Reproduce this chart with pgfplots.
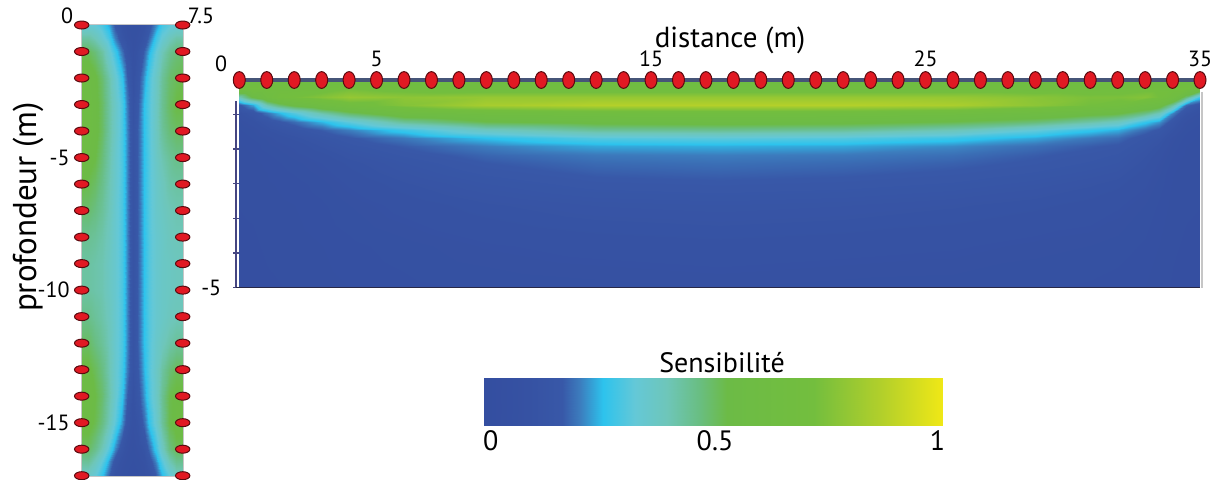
\documentclass[border=0pt]{standalone}
\usepackage{pgfplots}
\pgfplotsset{compat=1.18}
\usepackage{fontspec}
\setmainfont{PT Sans}
\definecolor{elred}{RGB}{225,25,35}
\definecolor{eldark}{RGB}{90,10,15}
\definecolor{topline}{RGB}{70,85,120}
\definecolor{navyax}{RGB}{70,70,130}
\pgfplotsset{
  /pgf/number format/assume math mode=true,
  colormap={sens}{[1pt] rgb255(0pt)=(52,78,160); rgb255(10pt)=(54,82,163); rgb255(17pt)=(56,88,168); rgb255(21pt)=(60,125,190); rgb255(26pt)=(45,195,237); rgb255(33pt)=(100,200,215); rgb255(40pt)=(110,198,185); rgb255(47pt)=(105,190,130); rgb255(53pt)=(108,187,70); rgb255(72pt)=(115,190,62); rgb255(87pt)=(180,208,42); rgb255(100pt)=(240,232,22)}
}
\begin{document}
\begin{tikzpicture}
\useasboundingbox (0pt,0pt) rectangle (611pt,239.5pt);
% ---------------- left panel ----------------
\begin{axis}[at={(40.85pt,1.65pt)}, anchor=south west, scale only axis,
  width=50.5pt, height=225.35pt,
  xmin=0, xmax=7.5, ymin=-17, ymax=0, clip=false,
  colormap name=sens, point meta min=0, point meta max=1,
  axis line style={draw=gray!45, line width=0.8pt},
  xtick=\empty, ytick={-15,-10,-5}, yticklabels={-15,-10,-5},
  major tick length=0pt,
  yticklabel style={font=\fontsize{11}{12}\selectfont, xshift=-2.5pt}]
\addplot[surf, shader=interp, mesh/cols=17, point meta=explicit] coordinates {
(0,0)[0.34] (0.5,0)[0.34] (1,0)[0.33] (1.5,0)[0.3] (2,0)[0.24] (2.5,0)[0.16] (3,0)[0.1] (3.4,0)[0.07] (3.8,0)[0.06] (4.2,0)[0.07] (4.6,0)[0.1] (5,0)[0.15] (5.5,0)[0.22] (6,0)[0.29] (6.5,0)[0.32] (7,0)[0.34] (7.5,0)[0.34]
(0,-0.5)[0.43] (0.5,-0.5)[0.43] (1,-0.5)[0.4] (1.5,-0.5)[0.35] (2,-0.5)[0.29] (2.5,-0.5)[0.21] (3,-0.5)[0.13] (3.4,-0.5)[0.09] (3.8,-0.5)[0.07] (4.2,-0.5)[0.09] (4.6,-0.5)[0.13] (5,-0.5)[0.19] (5.5,-0.5)[0.28] (6,-0.5)[0.34] (6.5,-0.5)[0.39] (7,-0.5)[0.42] (7.5,-0.5)[0.42]
(0,-1)[0.51] (0.5,-1)[0.51] (1,-1)[0.48] (1.5,-1)[0.43] (2,-1)[0.35] (2.5,-1)[0.28] (3,-1)[0.2] (3.4,-1)[0.13] (3.8,-1)[0.08] (4.2,-1)[0.12] (4.6,-1)[0.18] (5,-1)[0.25] (5.5,-1)[0.33] (6,-1)[0.4] (6.5,-1)[0.45] (7,-1)[0.48] (7.5,-1)[0.49]
(0,-2)[0.57] (0.5,-2)[0.57] (1,-2)[0.54] (1.5,-2)[0.49] (2,-2)[0.42] (2.5,-2)[0.35] (3,-2)[0.27] (3.4,-2)[0.18] (3.8,-2)[0.1] (4.2,-2)[0.15] (4.6,-2)[0.23] (5,-2)[0.3] (5.5,-2)[0.37] (6,-2)[0.44] (6.5,-2)[0.49] (7,-2)[0.51] (7.5,-2)[0.52]
(0,-3)[0.58] (0.5,-3)[0.58] (1,-3)[0.55] (1.5,-3)[0.5] (2,-3)[0.43] (2.5,-3)[0.37] (3,-3)[0.3] (3.4,-3)[0.21] (3.8,-3)[0.11] (4.2,-3)[0.17] (4.6,-3)[0.26] (5,-3)[0.31] (5.5,-3)[0.38] (6,-3)[0.45] (6.5,-3)[0.5] (7,-3)[0.53] (7.5,-3)[0.53]
(0,-4)[0.58] (0.5,-4)[0.58] (1,-4)[0.55] (1.5,-4)[0.5] (2,-4)[0.43] (2.5,-4)[0.37] (3,-4)[0.3] (3.4,-4)[0.22] (3.8,-4)[0.12] (4.2,-4)[0.18] (4.6,-4)[0.26] (5,-4)[0.31] (5.5,-4)[0.38] (6,-4)[0.44] (6.5,-4)[0.48] (7,-4)[0.5] (7.5,-4)[0.5]
(0,-5)[0.57] (0.5,-5)[0.56] (1,-5)[0.53] (1.5,-5)[0.48] (2,-5)[0.42] (2.5,-5)[0.36] (3,-5)[0.3] (3.4,-5)[0.22] (3.8,-5)[0.12] (4.2,-5)[0.18] (4.6,-5)[0.26] (5,-5)[0.31] (5.5,-5)[0.37] (6,-5)[0.41] (6.5,-5)[0.44] (7,-5)[0.46] (7.5,-5)[0.46]
(0,-6)[0.53] (0.5,-6)[0.52] (1,-6)[0.5] (1.5,-6)[0.46] (2,-6)[0.41] (2.5,-6)[0.36] (3,-6)[0.3] (3.4,-6)[0.22] (3.8,-6)[0.12] (4.2,-6)[0.18] (4.6,-6)[0.26] (5,-6)[0.31] (5.5,-6)[0.36] (6,-6)[0.39] (6.5,-6)[0.42] (7,-6)[0.43] (7.5,-6)[0.43]
(0,-7)[0.49] (0.5,-7)[0.49] (1,-7)[0.47] (1.5,-7)[0.44] (2,-7)[0.4] (2.5,-7)[0.35] (3,-7)[0.3] (3.4,-7)[0.22] (3.8,-7)[0.12] (4.2,-7)[0.18] (4.6,-7)[0.26] (5,-7)[0.31] (5.5,-7)[0.36] (6,-7)[0.38] (6.5,-7)[0.4] (7,-7)[0.41] (7.5,-7)[0.41]
(0,-8)[0.45] (0.5,-8)[0.45] (1,-8)[0.44] (1.5,-8)[0.42] (2,-8)[0.39] (2.5,-8)[0.35] (3,-8)[0.3] (3.4,-8)[0.22] (3.8,-8)[0.12] (4.2,-8)[0.18] (4.6,-8)[0.26] (5,-8)[0.31] (5.5,-8)[0.35] (6,-8)[0.37] (6.5,-8)[0.39] (7,-8)[0.4] (7.5,-8)[0.4]
(0,-9)[0.43] (0.5,-9)[0.43] (1,-9)[0.42] (1.5,-9)[0.41] (2,-9)[0.38] (2.5,-9)[0.35] (3,-9)[0.3] (3.4,-9)[0.22] (3.8,-9)[0.12] (4.2,-9)[0.18] (4.6,-9)[0.26] (5,-9)[0.31] (5.5,-9)[0.35] (6,-9)[0.37] (6.5,-9)[0.38] (7,-9)[0.39] (7.5,-9)[0.39]
(0,-10)[0.43] (0.5,-10)[0.43] (1,-10)[0.42] (1.5,-10)[0.41] (2,-10)[0.38] (2.5,-10)[0.35] (3,-10)[0.3] (3.4,-10)[0.22] (3.8,-10)[0.12] (4.2,-10)[0.18] (4.6,-10)[0.26] (5,-10)[0.31] (5.5,-10)[0.35] (6,-10)[0.37] (6.5,-10)[0.38] (7,-10)[0.39] (7.5,-10)[0.39]
(0,-11)[0.46] (0.5,-11)[0.46] (1,-11)[0.44] (1.5,-11)[0.42] (2,-11)[0.39] (2.5,-11)[0.35] (3,-11)[0.3] (3.4,-11)[0.22] (3.8,-11)[0.12] (4.2,-11)[0.18] (4.6,-11)[0.26] (5,-11)[0.31] (5.5,-11)[0.35] (6,-11)[0.37] (6.5,-11)[0.39] (7,-11)[0.4] (7.5,-11)[0.4]
(0,-12)[0.5] (0.5,-12)[0.5] (1,-12)[0.47] (1.5,-12)[0.44] (2,-12)[0.4] (2.5,-12)[0.35] (3,-12)[0.3] (3.4,-12)[0.22] (3.8,-12)[0.12] (4.2,-12)[0.18] (4.6,-12)[0.26] (5,-12)[0.31] (5.5,-12)[0.36] (6,-12)[0.39] (6.5,-12)[0.42] (7,-12)[0.44] (7.5,-12)[0.44]
(0,-13)[0.54] (0.5,-13)[0.54] (1,-13)[0.51] (1.5,-13)[0.47] (2,-13)[0.41] (2.5,-13)[0.35] (3,-13)[0.29] (3.4,-13)[0.21] (3.8,-13)[0.12] (4.2,-13)[0.17] (4.6,-13)[0.25] (5,-13)[0.31] (5.5,-13)[0.37] (6,-13)[0.43] (6.5,-13)[0.48] (7,-13)[0.51] (7.5,-13)[0.51]
(0,-14)[0.57] (0.5,-14)[0.57] (1,-14)[0.53] (1.5,-14)[0.49] (2,-14)[0.42] (2.5,-14)[0.35] (3,-14)[0.27] (3.4,-14)[0.18] (3.8,-14)[0.1] (4.2,-14)[0.15] (4.6,-14)[0.23] (5,-14)[0.3] (5.5,-14)[0.37] (6,-14)[0.45] (6.5,-14)[0.52] (7,-14)[0.54] (7.5,-14)[0.54]
(0,-15)[0.55] (0.5,-15)[0.55] (1,-15)[0.52] (1.5,-15)[0.47] (2,-15)[0.4] (2.5,-15)[0.32] (3,-15)[0.23] (3.4,-15)[0.14] (3.8,-15)[0.09] (4.2,-15)[0.12] (4.6,-15)[0.19] (5,-15)[0.27] (5.5,-15)[0.35] (6,-15)[0.44] (6.5,-15)[0.52] (7,-15)[0.55] (7.5,-15)[0.55]
(0,-16)[0.5] (0.5,-16)[0.5] (1,-16)[0.46] (1.5,-16)[0.4] (2,-16)[0.31] (2.5,-16)[0.22] (3,-16)[0.13] (3.4,-16)[0.09] (3.8,-16)[0.07] (4.2,-16)[0.09] (4.6,-16)[0.12] (5,-16)[0.19] (5.5,-16)[0.28] (6,-16)[0.38] (6.5,-16)[0.47] (7,-16)[0.51] (7.5,-16)[0.51]
(0,-16.5)[0.44] (0.5,-16.5)[0.44] (1,-16.5)[0.39] (1.5,-16.5)[0.32] (2,-16.5)[0.23] (2.5,-16.5)[0.14] (3,-16.5)[0.09] (3.4,-16.5)[0.07] (3.8,-16.5)[0.06] (4.2,-16.5)[0.07] (4.6,-16.5)[0.09] (5,-16.5)[0.14] (5.5,-16.5)[0.22] (6,-16.5)[0.31] (6.5,-16.5)[0.4] (7,-16.5)[0.45] (7.5,-16.5)[0.45]
(0,-17)[0.37] (0.5,-17)[0.37] (1,-17)[0.33] (1.5,-17)[0.26] (2,-17)[0.18] (2.5,-17)[0.1] (3,-17)[0.07] (3.4,-17)[0.06] (3.8,-17)[0.05] (4.2,-17)[0.06] (4.6,-17)[0.07] (5,-17)[0.1] (5.5,-17)[0.17] (6,-17)[0.25] (6.5,-17)[0.32] (7,-17)[0.38] (7.5,-17)[0.38]
};
\addplot[only marks, mark=*, mark size=2pt, mark options={xscale=1.8, fill=elred, draw=eldark, line width=0.5pt}] coordinates {
(0,0)(0,-1)(0,-2)(0,-3)(0,-4)(0,-5)(0,-6)(0,-7)(0,-8)(0,-9)(0,-10)(0,-11)(0,-12)(0,-13)(0,-14)(0,-15)(0,-16)(0,-17)
(7.5,0)(7.5,-1)(7.5,-2)(7.5,-3)(7.5,-4)(7.5,-5)(7.5,-6)(7.5,-7)(7.5,-8)(7.5,-9)(7.5,-10)(7.5,-11)(7.5,-12)(7.5,-13)(7.5,-14)(7.5,-15)(7.5,-16)(7.5,-17)};
\end{axis}
\node[font=\fontsize{11}{12}\selectfont] at (33.5pt,231.5pt) {0};
\node[font=\fontsize{11}{12}\selectfont] at (100.5pt,231.5pt) {7.5};
\node[rotate=90, font=\fontsize{16.5}{18}\selectfont] at (14pt,136pt) {profondeur (m)};
% ---------------- right panel ----------------
\begin{axis}[at={(119.65pt,95.75pt)}, anchor=south west, scale only axis,
  width=480.35pt, height=103.75pt,
  xmin=0, xmax=35, ymin=-5, ymax=0, clip=false,
  colormap name=sens, point meta min=0, point meta max=1,
  axis line style={draw=none},
  xtick={5,15,25,35}, xticklabel pos=upper, xtick style={draw=none},
  xticklabel style={font=\fontsize{11}{12}\selectfont, yshift=0pt},
  ytick={-4.1667,-3.3333,-2.5,-1.6667,-0.8333}, yticklabels={},
  extra y ticks={-5}, extra y tick labels={-5},
  ytick pos=left, tick align=outside, major tick length=3pt,
  ytick style={draw=navyax, line width=0.7pt},
  yticklabel style={font=\fontsize{11}{12}\selectfont, xshift=-2.5pt}]
\addplot[surf, shader=interp, mesh/cols=21, point meta=explicit] coordinates {
(0,0)[0.6] (0.5,0)[0.6] (1,0)[0.6] (1.5,0)[0.6] (2,0)[0.6] (3,0)[0.6] (4,0)[0.6] (6,0)[0.6] (9,0)[0.6] (13,0)[0.6] (17.5,0)[0.6] (22,0)[0.6] (26,0)[0.6] (29,0)[0.6] (31,0)[0.6] (32,0)[0.6] (33,0)[0.6] (33.5,0)[0.6] (34,0)[0.6] (34.5,0)[0.6] (35,0)[0.55]
(0,-0.2)[0.68] (0.5,-0.2)[0.7] (1,-0.2)[0.68] (1.5,-0.2)[0.67] (2,-0.2)[0.67] (3,-0.2)[0.68] (4,-0.2)[0.72] (6,-0.2)[0.68] (9,-0.2)[0.66] (13,-0.2)[0.66] (17.5,-0.2)[0.66] (22,-0.2)[0.66] (26,-0.2)[0.66] (29,-0.2)[0.66] (31,-0.2)[0.67] (32,-0.2)[0.68] (33,-0.2)[0.7] (33.5,-0.2)[0.7] (34,-0.2)[0.7] (34.5,-0.2)[0.7] (35,-0.2)[0.65]
(0,-0.4)[0.4] (0.5,-0.4)[0.54] (1,-0.4)[0.63] (1.5,-0.4)[0.7] (2,-0.4)[0.72] (3,-0.4)[0.76] (4,-0.4)[0.8] (6,-0.4)[0.78] (9,-0.4)[0.8] (13,-0.4)[0.8] (17.5,-0.4)[0.8] (22,-0.4)[0.8] (26,-0.4)[0.8] (29,-0.4)[0.77] (31,-0.4)[0.74] (32,-0.4)[0.74] (33,-0.4)[0.76] (33.5,-0.4)[0.72] (34,-0.4)[0.66] (34.5,-0.4)[0.48] (35,-0.4)[0.28]
(0,-0.6)[0.16] (0.5,-0.6)[0.24] (1,-0.6)[0.41] (1.5,-0.6)[0.49] (2,-0.6)[0.55] (3,-0.6)[0.62] (4,-0.6)[0.68] (6,-0.6)[0.76] (9,-0.6)[0.84] (13,-0.6)[0.87] (17.5,-0.6)[0.87] (22,-0.6)[0.87] (26,-0.6)[0.85] (29,-0.6)[0.78] (31,-0.6)[0.72] (32,-0.6)[0.69] (33,-0.6)[0.61] (33.5,-0.6)[0.58] (34,-0.6)[0.43] (34.5,-0.6)[0.19] (35,-0.6)[0.13]
(0,-0.8)[0.1] (0.5,-0.8)[0.135] (1,-0.8)[0.2] (1.5,-0.8)[0.255] (2,-0.8)[0.31] (3,-0.8)[0.42] (4,-0.8)[0.5] (6,-0.8)[0.6] (9,-0.8)[0.64] (13,-0.8)[0.66] (17.5,-0.8)[0.67] (22,-0.8)[0.66] (26,-0.8)[0.64] (29,-0.8)[0.6] (31,-0.8)[0.56] (32,-0.8)[0.54] (33,-0.8)[0.47] (33.5,-0.8)[0.4] (34,-0.8)[0.213] (34.5,-0.8)[0.12] (35,-0.8)[0.08]
(0,-1)[0.073] (0.5,-1)[0.098] (1,-1)[0.133] (1.5,-1)[0.162] (2,-1)[0.19] (3,-1)[0.25] (4,-1)[0.32] (6,-1)[0.44] (9,-1)[0.52] (13,-1)[0.55] (17.5,-1)[0.56] (22,-1)[0.55] (26,-1)[0.52] (29,-1)[0.48] (31,-1)[0.42] (32,-1)[0.38] (33,-1)[0.27] (33.5,-1)[0.228] (34,-1)[0.137] (34.5,-1)[0.08] (35,-1)[0.065]
(0,-1.2)[0.06] (0.5,-1.2)[0.075] (1,-1.2)[0.104] (1.5,-1.2)[0.122] (2,-1.2)[0.14] (3,-1.2)[0.175] (4,-1.2)[0.21] (6,-1.2)[0.28] (9,-1.2)[0.38] (13,-1.2)[0.44] (17.5,-1.2)[0.45] (22,-1.2)[0.44] (26,-1.2)[0.4] (29,-1.2)[0.33] (31,-1.2)[0.27] (32,-1.2)[0.245] (33,-1.2)[0.19] (33.5,-1.2)[0.16] (34,-1.2)[0.109] (34.5,-1.2)[0.068] (35,-1.2)[0.05]
(0,-1.4)[0.05] (0.5,-1.4)[0.064] (1,-1.4)[0.078] (1.5,-1.4)[0.096] (2,-1.4)[0.11] (3,-1.4)[0.14] (4,-1.4)[0.165] (6,-1.4)[0.205] (9,-1.4)[0.26] (13,-1.4)[0.31] (17.5,-1.4)[0.32] (22,-1.4)[0.31] (26,-1.4)[0.28] (29,-1.4)[0.24] (31,-1.4)[0.205] (32,-1.4)[0.19] (33,-1.4)[0.15] (33.5,-1.4)[0.13] (34,-1.4)[0.08] (34.5,-1.4)[0.056] (35,-1.4)[0.048]
(0,-1.6)[0.048] (0.5,-1.6)[0.053] (1,-1.6)[0.07] (1.5,-1.6)[0.08] (2,-1.6)[0.09] (3,-1.6)[0.12] (4,-1.6)[0.145] (6,-1.6)[0.175] (9,-1.6)[0.21] (13,-1.6)[0.24] (17.5,-1.6)[0.245] (22,-1.6)[0.24] (26,-1.6)[0.22] (29,-1.6)[0.195] (31,-1.6)[0.175] (32,-1.6)[0.165] (33,-1.6)[0.135] (33.5,-1.6)[0.11] (34,-1.6)[0.071] (34.5,-1.6)[0.05] (35,-1.6)[0.046]
(0,-1.8)[0.046] (0.5,-1.8)[0.05] (1,-1.8)[0.06] (1.5,-1.8)[0.07] (2,-1.8)[0.08] (3,-1.8)[0.1] (4,-1.8)[0.125] (6,-1.8)[0.155] (9,-1.8)[0.185] (13,-1.8)[0.205] (17.5,-1.8)[0.21] (22,-1.8)[0.205] (26,-1.8)[0.195] (29,-1.8)[0.175] (31,-1.8)[0.16] (32,-1.8)[0.15] (33,-1.8)[0.12] (33.5,-1.8)[0.095] (34,-1.8)[0.063] (34.5,-1.8)[0.048] (35,-1.8)[0.045]
(0,-2)[0.045] (0.5,-2)[0.048] (1,-2)[0.052] (1.5,-2)[0.062] (2,-2)[0.07] (3,-2)[0.088] (4,-2)[0.11] (6,-2)[0.14] (9,-2)[0.17] (13,-2)[0.19] (17.5,-2)[0.195] (22,-2)[0.19] (26,-2)[0.18] (29,-2)[0.165] (31,-2)[0.15] (32,-2)[0.14] (33,-2)[0.11] (33.5,-2)[0.085] (34,-2)[0.054] (34.5,-2)[0.046] (35,-2)[0.044]
(0,-2.5)[0.04] (0.5,-2.5)[0.045] (1,-2.5)[0.048] (1.5,-2.5)[0.052] (2,-2.5)[0.056] (3,-2.5)[0.07] (4,-2.5)[0.09] (6,-2.5)[0.115] (9,-2.5)[0.14] (13,-2.5)[0.16] (17.5,-2.5)[0.165] (22,-2.5)[0.16] (26,-2.5)[0.15] (29,-2.5)[0.135] (31,-2.5)[0.12] (32,-2.5)[0.11] (33,-2.5)[0.09] (33.5,-2.5)[0.07] (34,-2.5)[0.048] (34.5,-2.5)[0.042] (35,-2.5)[0.04]
(0,-3)[0.038] (0.5,-3)[0.04] (1,-3)[0.045] (1.5,-3)[0.048] (2,-3)[0.05] (3,-3)[0.06] (4,-3)[0.075] (6,-3)[0.095] (9,-3)[0.115] (13,-3)[0.13] (17.5,-3)[0.135] (22,-3)[0.13] (26,-3)[0.12] (29,-3)[0.11] (31,-3)[0.1] (32,-3)[0.09] (33,-3)[0.075] (33.5,-3)[0.06] (34,-3)[0.045] (34.5,-3)[0.04] (35,-3)[0.038]
(0,-4)[0.034] (0.5,-4)[0.035] (1,-4)[0.04] (1.5,-4)[0.042] (2,-4)[0.044] (3,-4)[0.05] (4,-4)[0.058] (6,-4)[0.07] (9,-4)[0.085] (13,-4)[0.095] (17.5,-4)[0.1] (22,-4)[0.095] (26,-4)[0.09] (29,-4)[0.08] (31,-4)[0.075] (32,-4)[0.07] (33,-4)[0.06] (33.5,-4)[0.05] (34,-4)[0.04] (34.5,-4)[0.035] (35,-4)[0.034]
(0,-5)[0.03] (0.5,-5)[0.03] (1,-5)[0.035] (1.5,-5)[0.037] (2,-5)[0.04] (3,-5)[0.045] (4,-5)[0.05] (6,-5)[0.058] (9,-5)[0.065] (13,-5)[0.07] (17.5,-5)[0.075] (22,-5)[0.07] (26,-5)[0.068] (29,-5)[0.064] (31,-5)[0.06] (32,-5)[0.055] (33,-5)[0.05] (33.5,-5)[0.045] (34,-5)[0.035] (34.5,-5)[0.03] (35,-5)[0.03]
};
\addplot[draw=navyax, line width=0.8pt] coordinates {(-0.13,-0.5) (-0.13,-5)};
\addplot[draw={rgb,255:red,40;green,40;blue,70}, line width=0.6pt] coordinates {(-0.13,-5) (35,-5)};
\addplot[draw=gray!45, line width=1pt] coordinates {(35.08,-0.3) (35.08,-5)};
\addplot[draw=topline, line width=1.6pt] coordinates {(0,0) (35,0)};
\addplot[only marks, mark=*, mark size=3pt, mark options={yscale=1.4, fill=elred, draw=eldark, line width=0.5pt}] coordinates {
(0,0)(1,0)(2,0)(3,0)(4,0)(5,0)(6,0)(7,0)(8,0)(9,0)(10,0)(11,0)(12,0)(13,0)(14,0)(15,0)(16,0)(17,0)(18,0)(19,0)(20,0)(21,0)(22,0)(23,0)(24,0)(25,0)(26,0)(27,0)(28,0)(29,0)(30,0)(31,0)(32,0)(33,0)(34,0)(35,0)};
\end{axis}
\node[font=\fontsize{11}{12}\selectfont] at (110.5pt,207.5pt) {0};
\node[font=\fontsize{14.5}{16}\selectfont] at (365pt,219.5pt) {distance (m)};
% ---------------- colour bar ----------------
\begin{axis}[at={(241.75pt,27pt)}, anchor=south west, scale only axis,
  width=229.5pt, height=23.65pt,
  xmin=0, xmax=1, ymin=0, ymax=1, axis line style={draw=none}, ticks=none,
  colormap name=sens, point meta min=0, point meta max=1]
\addplot[surf, shader=interp, mesh/cols=12, point meta=x] coordinates {
(0,0) (0.1,0) (0.17,0) (0.21,0) (0.26,0) (0.33,0) (0.4,0) (0.47,0) (0.53,0) (0.72,0) (0.87,0) (1,0)
(0,1) (0.1,1) (0.17,1) (0.21,1) (0.26,1) (0.33,1) (0.4,1) (0.47,1) (0.53,1) (0.72,1) (0.87,1) (1,1)};
\end{axis}
\node[font=\fontsize{14}{16}\selectfont] at (361pt,58pt) {Sensibilité};
\node[font=\fontsize{14}{16}\selectfont] at (245.4pt,19.25pt) {0};
\node[font=\fontsize{14}{16}\selectfont] at (357.5pt,19.25pt) {0.5};
\node[font=\fontsize{14}{16}\selectfont] at (468.75pt,19.25pt) {1};
\end{tikzpicture}
\end{document}
